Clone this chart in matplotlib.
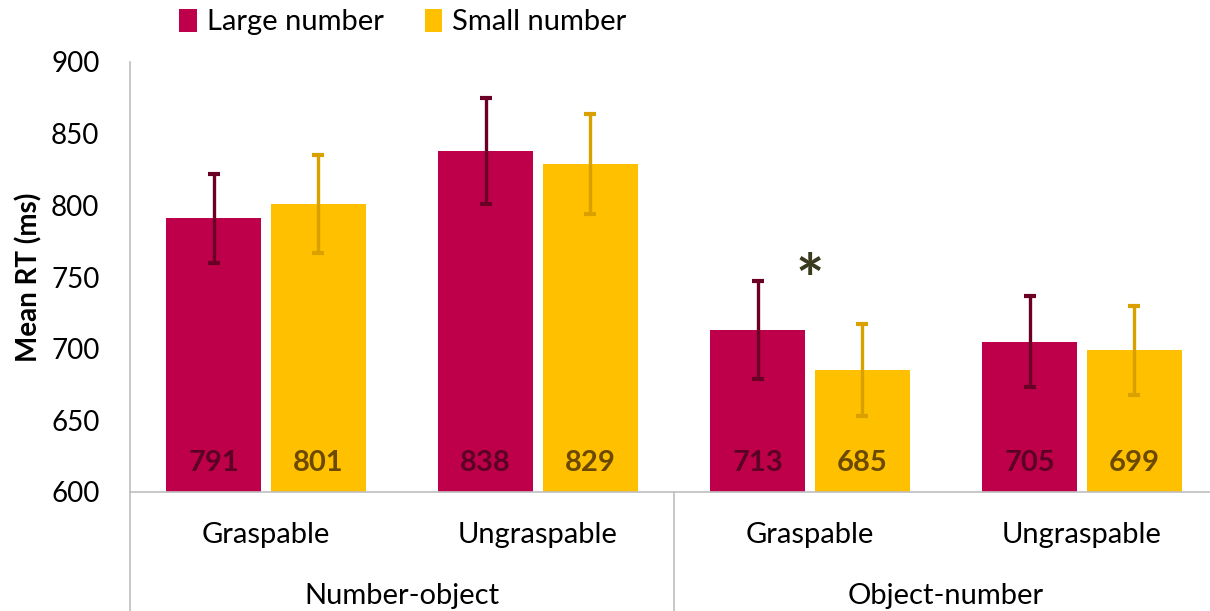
import numpy as np
import matplotlib.pyplot as plt

conditions = ['Graspable', 'Ungraspable', 'Graspable', 'Ungraspable']
tasks = ['Number-object', 'Object-number']
large_rt = [791, 838, 713, 705]
small_rt = [801, 829, 685, 699]
large_err = [31, 37, 34, 32]
small_err = [34, 35, 32, 31]

plt.rcParams['font.family'] = ['Lato', 'DejaVu Sans']

fig = plt.figure(figsize=(12.1, 6.11), dpi=100)
ax = fig.add_axes([130 / 1210, 119 / 611, 1088 / 1210, 430 / 611])

x = np.arange(len(conditions))
w = 0.35
off = 0.193
large_col = '#BE004B'
small_col = '#FFC000'

ax.bar(x - off, large_rt, w, color=large_col, label='Large number')
ax.bar(x + off, small_rt, w, color=small_col, label='Small number')
ax.errorbar(x - off, large_rt, yerr=large_err, fmt='none', ecolor='#6B0026',
            elinewidth=2.4, capsize=4.5, capthick=3)
ax.errorbar(x + off, small_rt, yerr=small_err, fmt='none', ecolor='#D9A000',
            elinewidth=2.4, capsize=4.5, capthick=3)

for i in range(len(x)):
    ax.text(x[i] - off, 620, str(large_rt[i]), ha='center', va='center',
            fontsize=21, fontweight='bold', color='#5A0025')
    ax.text(x[i] + off, 620, str(small_rt[i]), ha='center', va='center',
            fontsize=21, fontweight='bold', color='#6B4A00')

# significance marker
ax.text(2, 745, '*', ha='center', va='center', fontsize=48,
        fontweight='bold', color='#3A3A1E')

ax.set_ylim(600, 900)
ax.set_xlim(-0.5, 3.5)
ax.set_yticks(np.arange(600, 901, 50))
ax.tick_params(axis='y', length=0, pad=22, labelsize=20)
ax.set_xticks([])
ax.set_ylabel('Mean RT (ms)', fontsize=20, fontweight='bold', labelpad=6)

for s in ['top', 'right']:
    ax.spines[s].set_visible(False)
for s in ['left', 'bottom']:
    ax.spines[s].set_color('#BFBFBF')
    ax.spines[s].set_linewidth(1.2)

# two-level category axis
trans = ax.get_xaxis_transform()
for xs in [-0.5, 1.5, 3.5]:
    ax.plot([xs, xs], [0, -0.3], color='#BFBFBF', lw=1.2, transform=trans,
            clip_on=False)
for i, c in enumerate(conditions):
    ax.text(x[i], -0.1, c, ha='center', va='center', fontsize=21,
            transform=trans)
for j, t in enumerate(tasks):
    ax.text(0.5 + 2 * j, -0.242, t, ha='center', va='center', fontsize=21,
            transform=trans)

fig.legend(loc='center', bbox_to_anchor=(403 / 1210, 1 - 22 / 611), ncol=2,
           frameon=False, fontsize=21, handlelength=0.6, handleheight=0.85,
           handletextpad=0.35, columnspacing=1.4)

fig.savefig('out.png', dpi=100)
